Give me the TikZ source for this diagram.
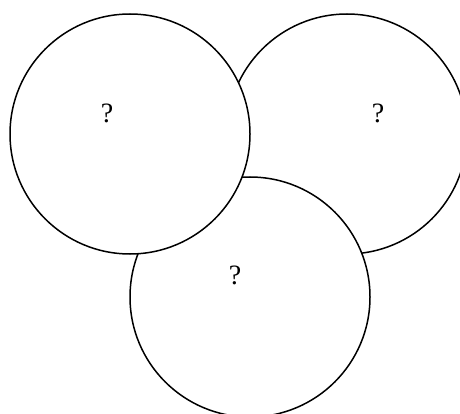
\documentclass[tikz,border=0pt]{standalone}
\usepackage{fontspec}
\setmainfont{Liberation Serif}
\begin{document}
\begin{tikzpicture}[x=1pt,y=-1pt,
  ring/.style={draw=black,fill=white,line width=1.5pt},
  lbl/.style={font=\fontsize{28}{30}\selectfont,inner sep=0pt}]
\useasboundingbox (0,0) rectangle (460,414);
\clip (0,0) rectangle (460,414);
\draw[ring] (347,134) circle (120);
\draw[ring] (250,297) circle (120);
\draw[ring] (130,134) circle (120);
\node[lbl] (q1) at (107,113) {?};
\node[lbl] (q2) at (378,113) {?};
\node[lbl] (q3) at (235,275) {?};
\end{tikzpicture}
\end{document}
